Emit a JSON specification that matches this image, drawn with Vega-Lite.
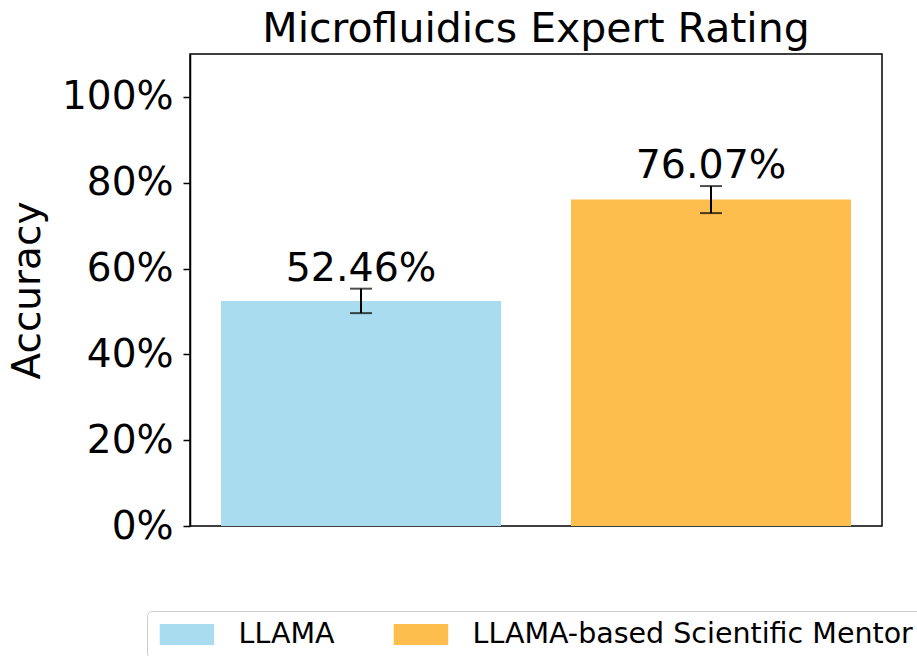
{
  "$schema": "https://vega.github.io/schema/vega-lite/v6.json",
  "autosize": "none",
  "width": 692,
  "height": 472,
  "padding": {"left": 190, "top": 54, "right": 35, "bottom": 130},
  "title": {
    "text": "Microfluidics Expert Rating",
    "fontSize": 41,
    "font": "DejaVu Sans",
    "fontWeight": "normal",
    "color": "black",
    "anchor": "middle",
    "baseline": "alphabetic",
    "offset": 10,
    "dy": 39
  },
  "config": {
    "font": "DejaVu Sans",
    "view": {"stroke": "black", "strokeWidth": 1.5},
    "axis": {"grid": false}
  },
  "data": {
    "values": [
      {"model": "LLAMA", "acc": 52.46, "lo": 49.61, "hi": 55.31, "label": "52.46%"},
      {"model": "LLAMA-based Scientific Mentor", "acc": 76.07, "lo": 72.92, "hi": 79.22, "label": "76.07%"}
    ]
  },
  "encoding": {
    "x": {
      "field": "model",
      "type": "nominal",
      "sort": null,
      "axis": null,
      "scale": {"paddingInner": 0.2, "paddingOuter": 0.0886}
    }
  },
  "layer": [
    {
      "mark": {"type": "bar"},
      "encoding": {
        "y": {
          "field": "acc",
          "type": "quantitative",
          "scale": {"domain": [0, 110], "nice": false, "zero": true},
          "axis": {
            "values": [0, 20, 40, 60, 80, 100],
            "labelExpr": "datum.value + '%'",
            "labelFontSize": 39,
            "labelColor": "black",
            "labelPadding": 10,
            "tickSize": 7,
            "tickWidth": 1.5,
            "tickColor": "black",
            "domainColor": "black",
            "domainWidth": 1.5,
            "title": "Accuracy",
            "titleFontSize": 39,
            "titleFontWeight": "normal",
            "titleColor": "black",
            "titlePadding": 14
          }
        },
        "color": {
          "field": "model",
          "type": "nominal",
          "sort": null,
          "scale": {
            "domain": ["LLAMA", "LLAMA-based Scientific Mentor"],
            "range": ["#A9DCEE", "#FDBE4D"]
          },
          "legend": {
            "title": null,
            "orient": "none",
            "legendX": -43,
            "legendY": 557,
            "direction": "horizontal",
            "columns": 2,
            "columnPadding": 55,
            "padding": 9,
            "labelFontSize": 28.5,
            "labelColor": "black",
            "labelLimit": 0,
            "labelOffset": 54,
            "symbolType": "M-1,-1H4.18V1H-1Z",
            "symbolSize": 441,
            "symbolStrokeWidth": 0,
            "symbolOpacity": 1,
            "strokeColor": "#cccccc",
            "fillColor": "white",
            "cornerRadius": 5
          }
        }
      }
    },
    {
      "mark": {"type": "rule", "color": "black", "strokeWidth": 2},
      "encoding": {
        "y": {"field": "lo", "type": "quantitative"},
        "y2": {"field": "hi"}
      }
    },
    {
      "mark": {"type": "tick", "color": "black", "size": 22, "thickness": 2},
      "encoding": {
        "y": {"field": "lo", "type": "quantitative"}
      }
    },
    {
      "mark": {"type": "tick", "color": "black", "size": 22, "thickness": 2},
      "encoding": {
        "y": {"field": "hi", "type": "quantitative"}
      }
    },
    {
      "mark": {"type": "text", "fontSize": 39.5, "color": "black", "baseline": "alphabetic", "dy": -8, "align": "center"},
      "encoding": {
        "y": {"field": "hi", "type": "quantitative"},
        "text": {"field": "label"}
      }
    }
  ]
}
